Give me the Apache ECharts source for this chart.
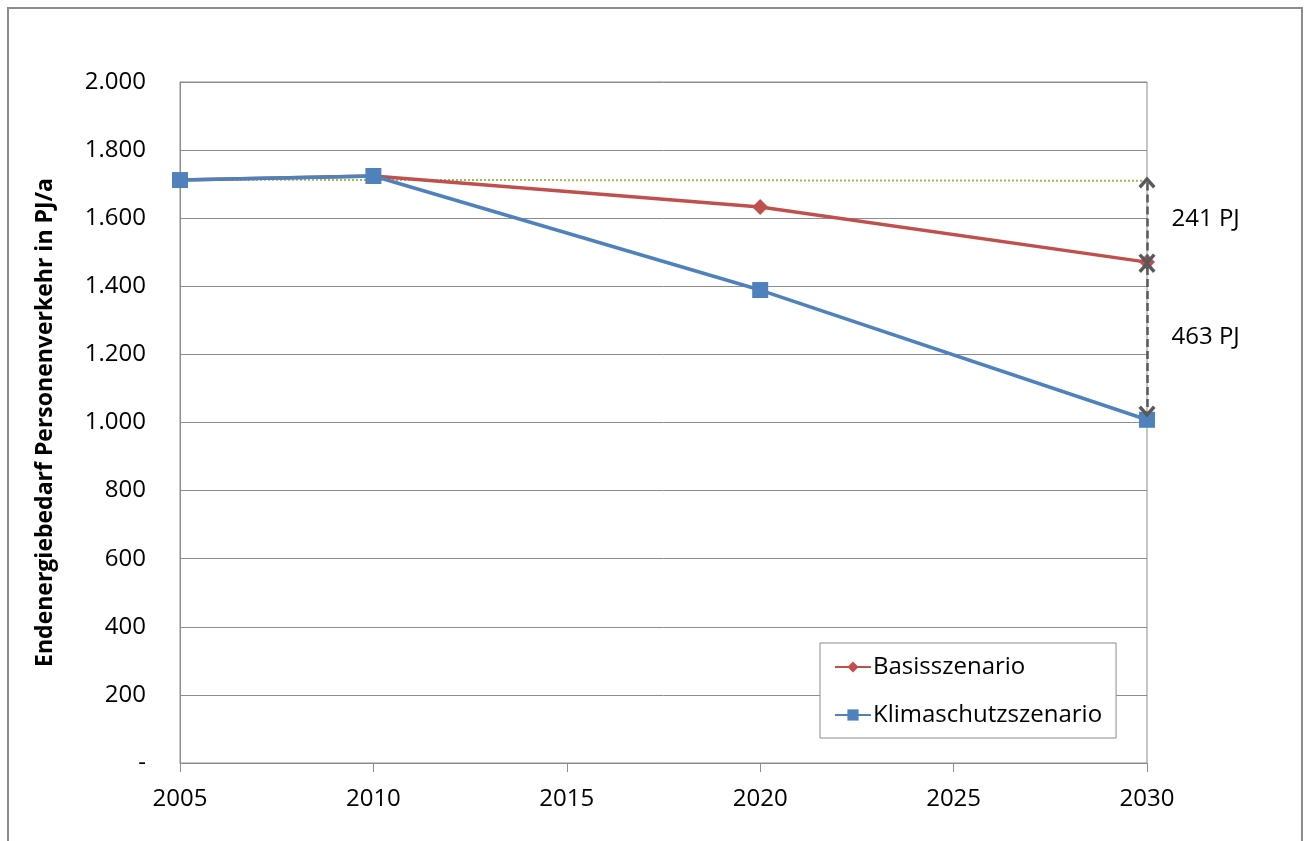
<!DOCTYPE html>
<html><head><meta charset="utf-8">
<script src="https://cdn.jsdelivr.net/npm/echarts@6/dist/echarts.min.js"></script>
<style>html,body{margin:0;padding:0;background:#fff}#c{width:1304px;height:841px}</style>
</head><body><div id="c"></div>
<script>
const years = [2005, 2010, 2020, 2030];
const basis = [1712, 1724, 1633, 1471];
const klima = [1712, 1724, 1389, 1008];
const refYears = [2005, 2030];
const refValues = [1713, 1710];
const gapLabels = ['241 PJ', '463 PJ'];

const FONT = 'Open Sans, Noto Sans, sans-serif';
const chev = 'path://M7,0 L14,8 L12,10 L7,4.4 L2,10 L0,8 Z';
const last = years.length - 1;
const topV = refValues[refValues.length - 1], midV = basis[last], botV = klima[last];

const chart = echarts.init(document.getElementById('c'));
chart.setOption({
  animation: false,
  textStyle: {fontFamily: FONT},
  graphic: [{type: 'rect', shape: {x: 8, y: 8, width: 1294, height: 860}, style: {fill: 'none', stroke: '#8c8c8c', lineWidth: 2}}],
  grid: {left: 180, right: 157, top: 82, bottom: 78, show: true, borderColor: '#8c8c8c', borderWidth: 1},
  legend: {
    orient: 'vertical', left: 820, top: 643, itemWidth: 36, itemHeight: 14, itemGap: 24,
    padding: [12, 14, 11, 14], borderColor: '#8c8c8c', borderWidth: 1, backgroundColor: '#fff',
    textStyle: {fontSize: 24, color: '#000', fontFamily: FONT, padding: [0, 0, 0, -3]},
    data: ['Basisszenario', 'Klimaschutzszenario']
  },
  xAxis: {
    type: 'value', min: 2005, max: 2030, interval: 5,
    axisLine: {show: true, lineStyle: {color: '#8c8c8c'}},
    axisTick: {show: true, length: 9, lineStyle: {color: '#8c8c8c'}},
    splitLine: {show: false},
    axisLabel: {fontSize: 24, color: '#000', margin: 24, formatter: v => String(v)}
  },
  yAxis: {
    type: 'value', min: 0, max: 2000, interval: 200,
    name: 'Endenergiebedarf Personenverkehr in PJ/a', nameLocation: 'middle', nameGap: 123,
    nameTextStyle: {fontSize: 23, fontWeight: 'bold', color: '#000', fontFamily: FONT},
    axisLine: {show: true, lineStyle: {color: '#8c8c8c'}},
    axisTick: {show: false},
    splitLine: {lineStyle: {color: '#8c8c8c', width: 1}},
    axisLabel: {fontSize: 24, color: '#000', margin: 34,
      formatter: v => v === 0 ? '-' : v.toLocaleString('de-DE')}
  },
  series: [
    {
      name: 'Referenz', type: 'line', data: refYears.map((y, i) => [y, refValues[i]]),
      symbol: 'none', lineStyle: {color: '#9BBB59', width: 2, type: [2, 2]}, z: 1,
      markLine: {
        silent: true, symbol: [chev, chev], symbolSize: [17, 12],
        lineStyle: {color: '#595959', width: 2.5, type: [8, 4]}, label: {show: false},
        itemStyle: {color: '#595959'},
        data: [
          [{coord: [2030, topV - 5]}, {coord: [2030, midV + 8]}],
          [{coord: [2030, midV - 14]}, {coord: [2030, botV + 24]}]
        ]
      },
      markPoint: {
        silent: true, symbol: 'circle', symbolSize: 1, itemStyle: {color: 'rgba(0,0,0,0)'},
        label: {show: true, position: 'right', distance: 24, fontSize: 24, color: '#000', fontFamily: FONT,
          formatter: p => p.name},
        data: [
          {name: gapLabels[0], coord: [2030, (topV + midV) / 2 + 6]},
          {name: gapLabels[1], coord: [2030, (midV + botV) / 2 + 10]}
        ]
      }
    },
    {
      name: 'Basisszenario', type: 'line', data: years.map((y, i) => [y, basis[i]]),
      symbol: 'diamond', symbolSize: 16, lineStyle: {color: '#C0504D', width: 3.5},
      itemStyle: {color: '#C0504D'}, z: 3
    },
    {
      name: 'Klimaschutzszenario', type: 'line', data: years.map((y, i) => [y, klima[i]]),
      symbol: 'rect', symbolSize: 16, lineStyle: {color: '#4F81BD', width: 3.5},
      itemStyle: {color: '#4F81BD'}, z: 4
    }
  ]
});
</script></body></html>
